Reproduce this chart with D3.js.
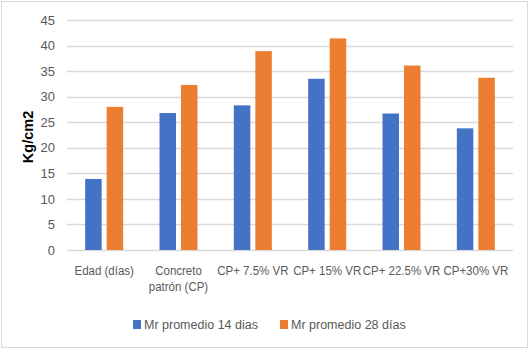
<!DOCTYPE html>
<html>
<head>
<meta charset="utf-8">
<script src="https://cdn.jsdelivr.net/npm/d3@7"></script>
<style>
  body { margin: 0; background: #fff; }
  text { font-family: "Liberation Sans", Arial, sans-serif; }
</style>
</head>
<body>
<div id="chart"></div>
<script>
// chart data
const categories = ["Edad (días)", "Concreto patrón (CP)", "CP+ 7.5% VR", "CP+ 15% VR", "CP+ 22.5% VR", "CP+30% VR"];
const seriesNames = ["Mr promedio 14 dias", "Mr promedio 28 días"];
const mr14 = [13.9, 26.8, 28.3, 33.5, 26.7, 23.8];
const mr28 = [28.0, 32.3, 38.9, 41.4, 36.1, 33.7];
const yTicks = [0, 5, 10, 15, 20, 25, 30, 35, 40, 45];
const colors = ["#4472C4", "#ED7D31"];

const width = 530, height = 350;
const margin = {top: 20, right: 17, bottom: 100, left: 67};

const svg = d3.select("#chart")
    .append("svg")
    .attr("width", width)
    .attr("height", height);

// outer frame
svg.append("rect")
    .attr("x", 1.5).attr("y", 1.5)
    .attr("width", width - 4).attr("height", height - 4)
    .attr("fill", "#fff")
    .attr("stroke", "#d9d9d9");

const x0 = d3.scaleBand()
    .domain(categories)
    .range([margin.left, width - margin.right]);

const x1 = d3.scaleBand()
    .domain([0, 1])
    .range([0, x0.bandwidth()])
    .paddingOuter(0.845)
    .paddingInner(0.233);

const y = d3.scaleLinear()
    .domain([0, 45])
    .range([height - margin.bottom, margin.top]);

// gridlines
svg.append("g")
    .selectAll("line")
    .data(yTicks)
    .join("line")
    .attr("x1", margin.left)
    .attr("x2", width - margin.right)
    .attr("y1", d => Math.round(y(d)) + 0.5)
    .attr("y2", d => Math.round(y(d)) + 0.5)
    .attr("stroke", "#d9d9d9")
    .attr("stroke-width", 1.3);

// y axis labels
const yAxis = svg.append("g")
    .attr("transform", `translate(${margin.left},0)`)
    .call(d3.axisLeft(y).tickValues(yTicks).tickSize(0).tickPadding(12));
yAxis.select(".domain").remove();
yAxis.selectAll("text")
    .attr("fill", "#595959")
    .style("font-family", "\"Liberation Sans\", Arial, sans-serif")
    .style("font-size", "13px");

// y title
svg.append("text")
    .attr("transform", `translate(33,${(y(0) + y(45)) / 2 + 2}) rotate(-90)`)
    .attr("text-anchor", "middle")
    .attr("fill", "#000")
    .style("font-size", "14.5px")
    .style("font-weight", "bold")
    .text("Kg/cm2");

// bars
const rows = categories.map((c, i) => ({cat: c, vals: [mr14[i], mr28[i]]}));
const groups = svg.append("g")
    .selectAll("g")
    .data(rows)
    .join("g")
    .attr("transform", d => `translate(${x0(d.cat)},0)`);

groups.selectAll("rect")
    .data(d => d.vals.map((v, k) => ({k, v})))
    .join("rect")
    .attr("x", d => x1(d.k))
    .attr("width", x1.bandwidth())
    .attr("y", d => y(d.v))
    .attr("height", d => y(0) - y(d.v))
    .attr("fill", d => colors[d.k]);

// x labels (wrapped, slightly condensed)
const xLines = {"Concreto patrón (CP)": ["Concreto", "patrón (CP)"]};
svg.append("g")
    .selectAll("text")
    .data(categories)
    .join("text")
    .attr("transform", d => `translate(${x0(d) + x0.bandwidth() / 2},275) scale(0.92,1)`)
    .attr("text-anchor", "middle")
    .attr("fill", "#595959")
    .style("font-size", "12.5px")
    .each(function (d) {
        const lines = xLines[d] || [d];
        d3.select(this).selectAll("tspan")
            .data(lines)
            .join("tspan")
            .attr("x", 0)
            .attr("dy", (l, i) => i === 0 ? 0 : 16)
            .text(l => l);
    });

// legend
const legendX = [133, 280];
const legend = svg.append("g")
    .selectAll("g")
    .data(seriesNames)
    .join("g")
    .attr("transform", (d, i) => `translate(${legendX[i]},320)`);

legend.append("rect")
    .attr("width", 8).attr("height", 9)
    .attr("fill", (d, i) => colors[i]);

legend.append("text")
    .attr("x", 11)
    .attr("y", 9)
    .attr("fill", "#595959")
    .style("font-size", "12.5px")
    .text(d => d);
</script>
</body>
</html>
